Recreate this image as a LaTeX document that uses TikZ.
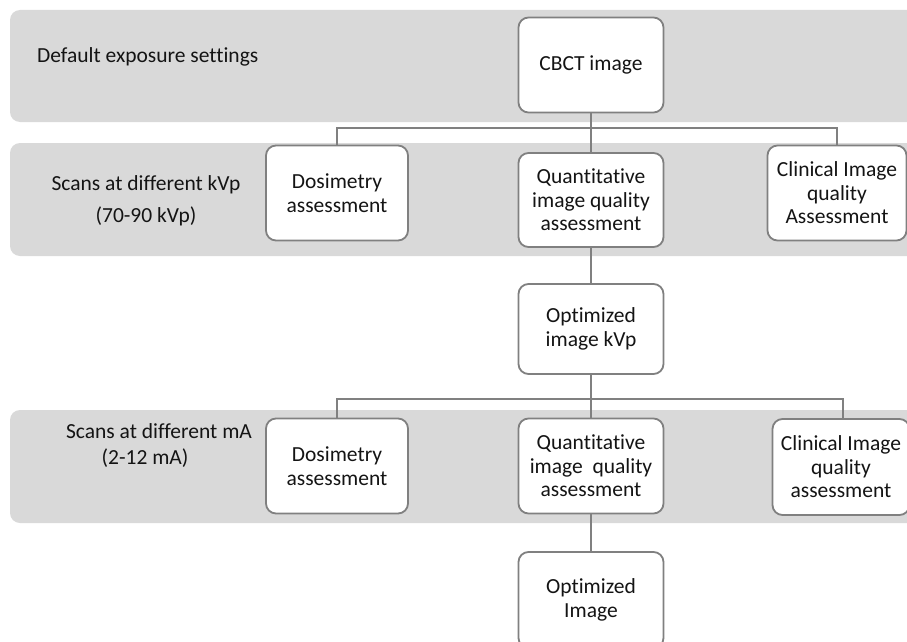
\documentclass[tikz,border=0pt]{standalone}
\usepackage{fontspec}
\setmainfont[Ligatures=NoCommon]{Carlito}
\definecolor{bandgray}{HTML}{D9D9D9}
\definecolor{edgegray}{HTML}{808080}
\definecolor{txt}{HTML}{141414}
\begin{document}
\begin{tikzpicture}[x=1pt,y=-1pt,
  band/.style={fill=bandgray,draw=none,rounded corners=10pt},
  stagebox/.style={draw=edgegray,line width=1.8pt,fill=white,rounded corners=10pt,
    align=center,text=txt,font=\fontsize{21.5}{23.5}\selectfont,inner sep=0pt},
  sidelabel/.style={text=txt,font=\fontsize{21.5}{23.5}\selectfont,inner sep=0pt},
  link/.style={draw=edgegray,line width=2.2pt}]
\useasboundingbox (0,0) rectangle (907,642);
\begin{scope}
\clip (0,0) rectangle (907,642);
% bands
\fill[band] (10,10) rectangle (930,122);
\fill[band] (10,143) rectangle (930,256);
\fill[band] (10,410) rectangle (930,523);
% labels
\node[sidelabel,anchor=west] (l1) at (37,57) {Default exposure settings};
\node[sidelabel] (l2a) at (146,185) {Scans at different kVp};
\node[sidelabel] (l2b) at (146,216) {(70-90 kVp)};
\node[sidelabel] (l3a) at (159,431) {Scans at different mA};
\node[sidelabel] (l3b) at (145,458) {(2-12 mA)};
% boxes
\node[stagebox,minimum width=145pt,minimum height=95pt] (cbct) at (591,65) {CBCT image};
\node[stagebox,minimum width=142pt,minimum height=95pt] (dos1) at (337,193) {Dosimetry\\assessment};
\node[stagebox,minimum width=145pt,minimum height=94pt] (q1) at (591,200) {Quantitative\\image quality\\assessment};
\node[stagebox,minimum width=139pt,minimum height=95pt] (cl1) at (837,193) {Clinical Image\\quality\\Assessment};
\node[stagebox,minimum width=145pt,minimum height=90pt] (optk) at (591,329) {Optimized\\image kVp};
\node[stagebox,minimum width=142pt,minimum height=95pt] (dos2) at (337,466) {Dosimetry\\assessment};
\node[stagebox,minimum width=145pt,minimum height=95pt] (q2) at (591,466) {Quantitative\\image\ \ quality\\assessment};
\node[stagebox,minimum width=137pt,minimum height=96pt] (cl2) at (841,467) {Clinical Image\\quality\\assessment};
\node[stagebox,minimum width=145pt,minimum height=96pt] (opti) at (591,600) {Optimized\\Image};
% junctions
\coordinate (j1) at (591,128);
\coordinate (j2) at (591,399);
% connectors
\draw[link] (cbct.south) -- (q1.north);
\draw[link] (dos1.north) |- (j1) -| (cl1.north);
\draw[link] (q1.south) -- (optk.north);
\draw[link] (optk.south) -- (q2.north);
\draw[link] (dos2.north) |- (j2) -| ([xshift=2pt]cl2.north);
\draw[link] (q2.south) -- (opti.north);
\end{scope}
\end{tikzpicture}
\end{document}
